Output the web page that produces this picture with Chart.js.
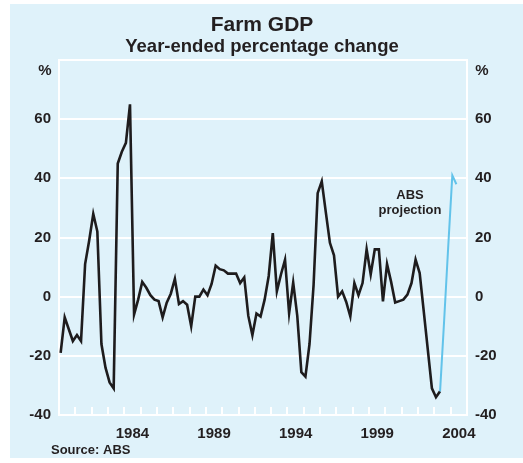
<!DOCTYPE html>
<html>
<head>
<meta charset="utf-8">
<script src="https://cdn.jsdelivr.net/npm/chart.js@4.4.1/dist/chart.umd.min.js"></script>
<style>
    html, body { margin: 0; padding: 0; background: #fff; }
</style>
</head>
<body>
<canvas id="graficoFarm" width="523" height="463"></canvas>
<script>
// quarterly data, first quarter of 1980 onwards
const firstYear = 1980;
const farmGdp = [
    -19, -7, -11, -15, -13, -15, 11, 19, 28, 22,
    -16, -24, -29, -31, 45, 49, 52, 65, -6, -1,
    5, 3, 0.5, -1, -1.5, -7, -2, 1, 6, -2.5,
    -1.5, -2.7, -10, 0, 0, 2.4, 0.5, 4.3, 10.5, 9.3,
    8.9, 7.8, 7.8, 7.8, 4.6, 6.5, -6.5, -13, -5.7, -6.7,
    -1, 7, 21.5, 1.8, 7.5, 12.5, -5.6, 4.8, -6.5, -25.5,
    -27, -16, 4, 35, 39, 28.5, 18.2, 14, 0, 1.8,
    -1.8, -6.7, 4.6, 0.5, 4.6, 16, 7.5, 16, 16, -1.6,
    11, 5, -2, -1.5, -1, 0.7, 4.6, 12.5, 8, -5,
    -18, -31, -34, -32
];
// ABS projection starts at the last actual quarter
const projStart = 93;
const projection = [-32, -8, 17, 41, 38];

const yearLabels = [1984, 1989, 1994, 1999, 2004];
const yTicks = [-40, -20, 0, 20, 40, 60, 80];

const fondo = '#dff2fa';
const texto = '#231f20';
const fuente = '"Liberation Sans", Arial, Helvetica, sans-serif';

function quarterPos(i) {
    return firstYear + 0.1 + i / 4;
}

const serieFarm = farmGdp.map(function (v, i) { return { x: quarterPos(i), y: v }; });
const serieProj = projection.map(function (v, i) { return { x: quarterPos(projStart + i), y: v }; });

const panelPlugin = {
    id: 'panel',
    beforeDraw: function (chart) {
        const ctx = chart.ctx;
        ctx.save();
        ctx.fillStyle = '#fff';
        ctx.fillRect(0, 0, chart.width, chart.height);
        ctx.fillStyle = fondo;
        ctx.fillRect(10, 4, chart.width - 10, 454);
        ctx.restore();
    },
    beforeDatasetsDraw: function (chart) {
        // year ticks pointing up from the bottom axis
        const ctx = chart.ctx;
        const x = chart.scales.x;
        const area = chart.chartArea;
        ctx.save();
        ctx.strokeStyle = '#fff';
        ctx.lineWidth = 2;
        for (let yr = firstYear + 1; yr < 2005; yr++) {
            const px = Math.round(x.getPixelForValue(yr));
            ctx.beginPath();
            ctx.moveTo(px, area.bottom);
            ctx.lineTo(px, area.bottom - 8);
            ctx.stroke();
        }
        ctx.restore();
    },
    afterDraw: function (chart) {
        const ctx = chart.ctx;
        ctx.save();
        ctx.fillStyle = texto;
        ctx.textAlign = 'center';
        ctx.textBaseline = 'middle';
        ctx.font = 'bold 21px ' + fuente;
        ctx.fillText('Farm GDP', 262, 25);
        ctx.font = 'bold 18.5px ' + fuente;
        ctx.fillText('Year-ended percentage change', 262, 47);

        ctx.font = 'bold 15px ' + fuente;
        ctx.fillText('%', 45, 71);
        ctx.fillText('%', 482, 71);

        ctx.font = 'bold 13px ' + fuente;
        ctx.fillText('ABS', 410, 195);
        ctx.fillText('projection', 410, 210);

        ctx.textAlign = 'left';
        ctx.fillText('Source: ABS', 51, 450);
        ctx.restore();
    }
};

new Chart(document.getElementById('graficoFarm'), {
    type: 'line',
    plugins: [panelPlugin],
    data: {
        datasets: [
            {
                data: serieFarm,
                borderColor: '#1e1c1d',
                borderWidth: 2.6,
                pointRadius: 0,
                tension: 0,
                order: 1
            },
            {
                data: serieProj,
                borderColor: '#62c3ea',
                borderWidth: 2,
                pointRadius: 0,
                tension: 0,
                order: 0
            }
        ]
    },
    options: {
        responsive: false,
        animation: false,
        devicePixelRatio: 1,
        layout: { padding: { top: 60, left: 0, right: 0, bottom: 0 } },
        plugins: {
            legend: { display: false },
            tooltip: { enabled: false },
            title: { display: false }
        },
        scales: {
            x: {
                type: 'linear',
                position: 'bottom',
                min: 1980,
                max: 2005,
                afterBuildTicks: function (s) {
                    s.ticks = yearLabels.map(function (yr) { return { value: yr + 0.5 }; });
                },
                afterFit: function (s) { s.height = 48; },
                ticks: {
                    autoSkip: false,
                    maxRotation: 0,
                    padding: 10,
                    color: texto,
                    font: { family: fuente, size: 15, weight: 'bold' },
                    callback: function (v) { return String(Math.floor(v)); }
                },
                grid: { display: false, drawTicks: false },
                border: { display: true, color: '#fff', width: 2 }
            },
            y: {
                position: 'left',
                min: -40,
                max: 80,
                afterBuildTicks: function (s) {
                    s.ticks = yTicks.map(function (v) { return { value: v }; });
                },
                afterFit: function (s) { s.width = 59; },
                ticks: {
                    padding: 8,
                    color: texto,
                    font: { family: fuente, size: 15, weight: 'bold' },
                    callback: function (v) { return v === 80 ? '' : String(v); }
                },
                grid: { color: '#fff', lineWidth: 2, drawTicks: false },
                border: { display: true, color: '#fff', width: 2 }
            },
            y2: {
                position: 'right',
                min: -40,
                max: 80,
                afterBuildTicks: function (s) {
                    s.ticks = yTicks.map(function (v) { return { value: v }; });
                },
                afterFit: function (s) { s.width = 56; },
                ticks: {
                    padding: 8,
                    color: texto,
                    font: { family: fuente, size: 15, weight: 'bold' },
                    callback: function (v) { return v === 80 ? '' : String(v); }
                },
                grid: { drawOnChartArea: false, drawTicks: false },
                border: { display: true, color: '#fff', width: 2 }
            }
        }
    }
});
</script>
</body>
</html>
